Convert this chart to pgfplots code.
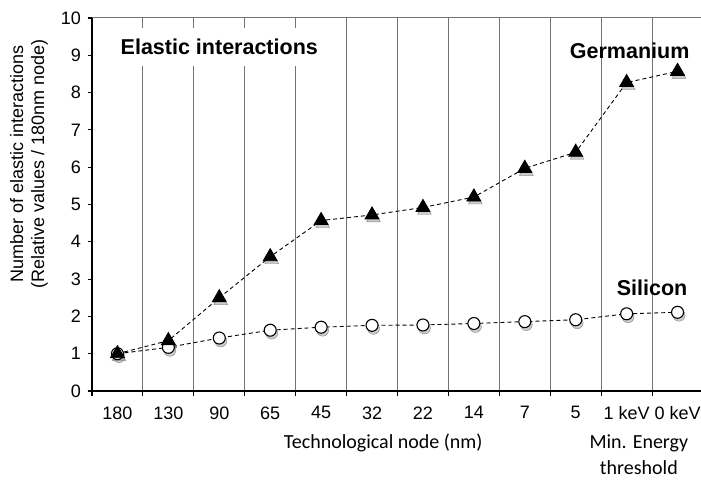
\documentclass[border=0pt]{standalone}
\usepackage{pgfplots}
\pgfplotsset{compat=1.18}
\usepackage{fontspec}
\setmainfont{Liberation Sans}
\newfontfamily\calibri{Carlito}
\begin{document}
\begin{tikzpicture}[x=1pt,y=1pt]
\useasboundingbox (-92,-89) rectangle (609,391);
\begin{axis}[
  at={(0,0)}, anchor=south west,
  scale only axis, width=611pt, height=373pt,
  xmin=-0.5, xmax=11.5, ymin=0, ymax=10,
  axis x line*=bottom, axis y line*=left,
  axis line style={-, black, line width=1.4pt},
  xtick={-0.5,0.5,...,11.5}, xticklabels={},
  xmajorgrids, major grid style={gray!90!black, line width=1pt},
  extra x ticks={0,1,2,3,4,5,6,7,8,9,10,11},
  extra x tick labels={180,130,90,65,45,32,22,14,7,5,1 keV,0 keV},
  extra x tick style={grid=none, major tick length=0pt},
  ytick={0,1,...,10},
  tick align=outside, major tick length=4.5pt,
  tick style={black, line width=1.1pt},
  /pgf/number format/assume math mode=true,
  tick label style={font=\fontsize{18}{20}\selectfont},
  xticklabel style={yshift=-12pt},
  yticklabel style={xshift=-3pt},
  clip=false,
]
\draw[gray!90!black, line width=1pt] (axis cs:-0.5,10) -- (axis cs:11.5,10);
% shadows
\addplot[draw=none, mark=*, mark size=6pt, mark options={fill=gray, draw=none, opacity=0.4, xshift=1.5pt, yshift=-3pt}]
  coordinates {(0,1.0)(1,1.17)(2,1.42)(3,1.63)(4,1.71)(5,1.76)(6,1.77)(7,1.81)(8,1.86)(9,1.91)(10,2.07)(11,2.11)};
\addplot[draw=none, mark=triangle*, mark size=8pt, mark options={fill=gray, draw=none, opacity=0.4, xshift=1.5pt, yshift=-3pt}]
  coordinates {(0,1.0)(1,1.35)(2,2.5)(3,3.6)(4,4.57)(5,4.72)(6,4.92)(7,5.2)(8,5.97)(9,6.4)(10,8.27)(11,8.57)};
% Silicon
\addplot[black, line width=0.9pt, dash pattern=on 4pt off 3pt, mark=*, mark size=6pt, mark options={solid, fill=white, draw=black, line width=1.1pt}]
  coordinates {(0,1.0)(1,1.17)(2,1.42)(3,1.63)(4,1.71)(5,1.76)(6,1.77)(7,1.81)(8,1.86)(9,1.91)(10,2.07)(11,2.11)};
% Germanium
\addplot[black, line width=0.9pt, dash pattern=on 4pt off 3pt, mark=triangle*, mark size=8pt, mark options={solid, fill=black, draw=black}]
  coordinates {(0,1.0)(1,1.35)(2,2.5)(3,3.6)(4,4.57)(5,4.72)(6,4.92)(7,5.2)(8,5.97)(9,6.4)(10,8.27)(11,8.57)};
\node[fill=white, inner xsep=9pt, inner ysep=11pt, font=\fontsize{21.5}{24}\selectfont\bfseries] at (axis cs:2.0,9.22) {Elastic interactions};
\node[font=\fontsize{21.5}{24}\selectfont\bfseries] at (axis cs:10.06,9.12) {Germanium};
\node[font=\fontsize{21.5}{24}\selectfont\bfseries] at (axis cs:10.5,2.76) {Silicon};
\node[font=\calibri\fontsize{20}{26}\selectfont] at (axis cs:5.22,-1.39) {Technological node (nm)};
\node[font=\calibri\fontsize{20}{26}\selectfont, align=center, anchor=north] at (axis cs:10.24,-1.07) {Min. Energy\\threshold};
\end{axis}
\node[rotate=90, align=center, font=\fontsize{18}{21}\selectfont] at (-63,227) {Number of elastic interactions\\(Relative values / 180nm node)};
\end{tikzpicture}
\end{document}
